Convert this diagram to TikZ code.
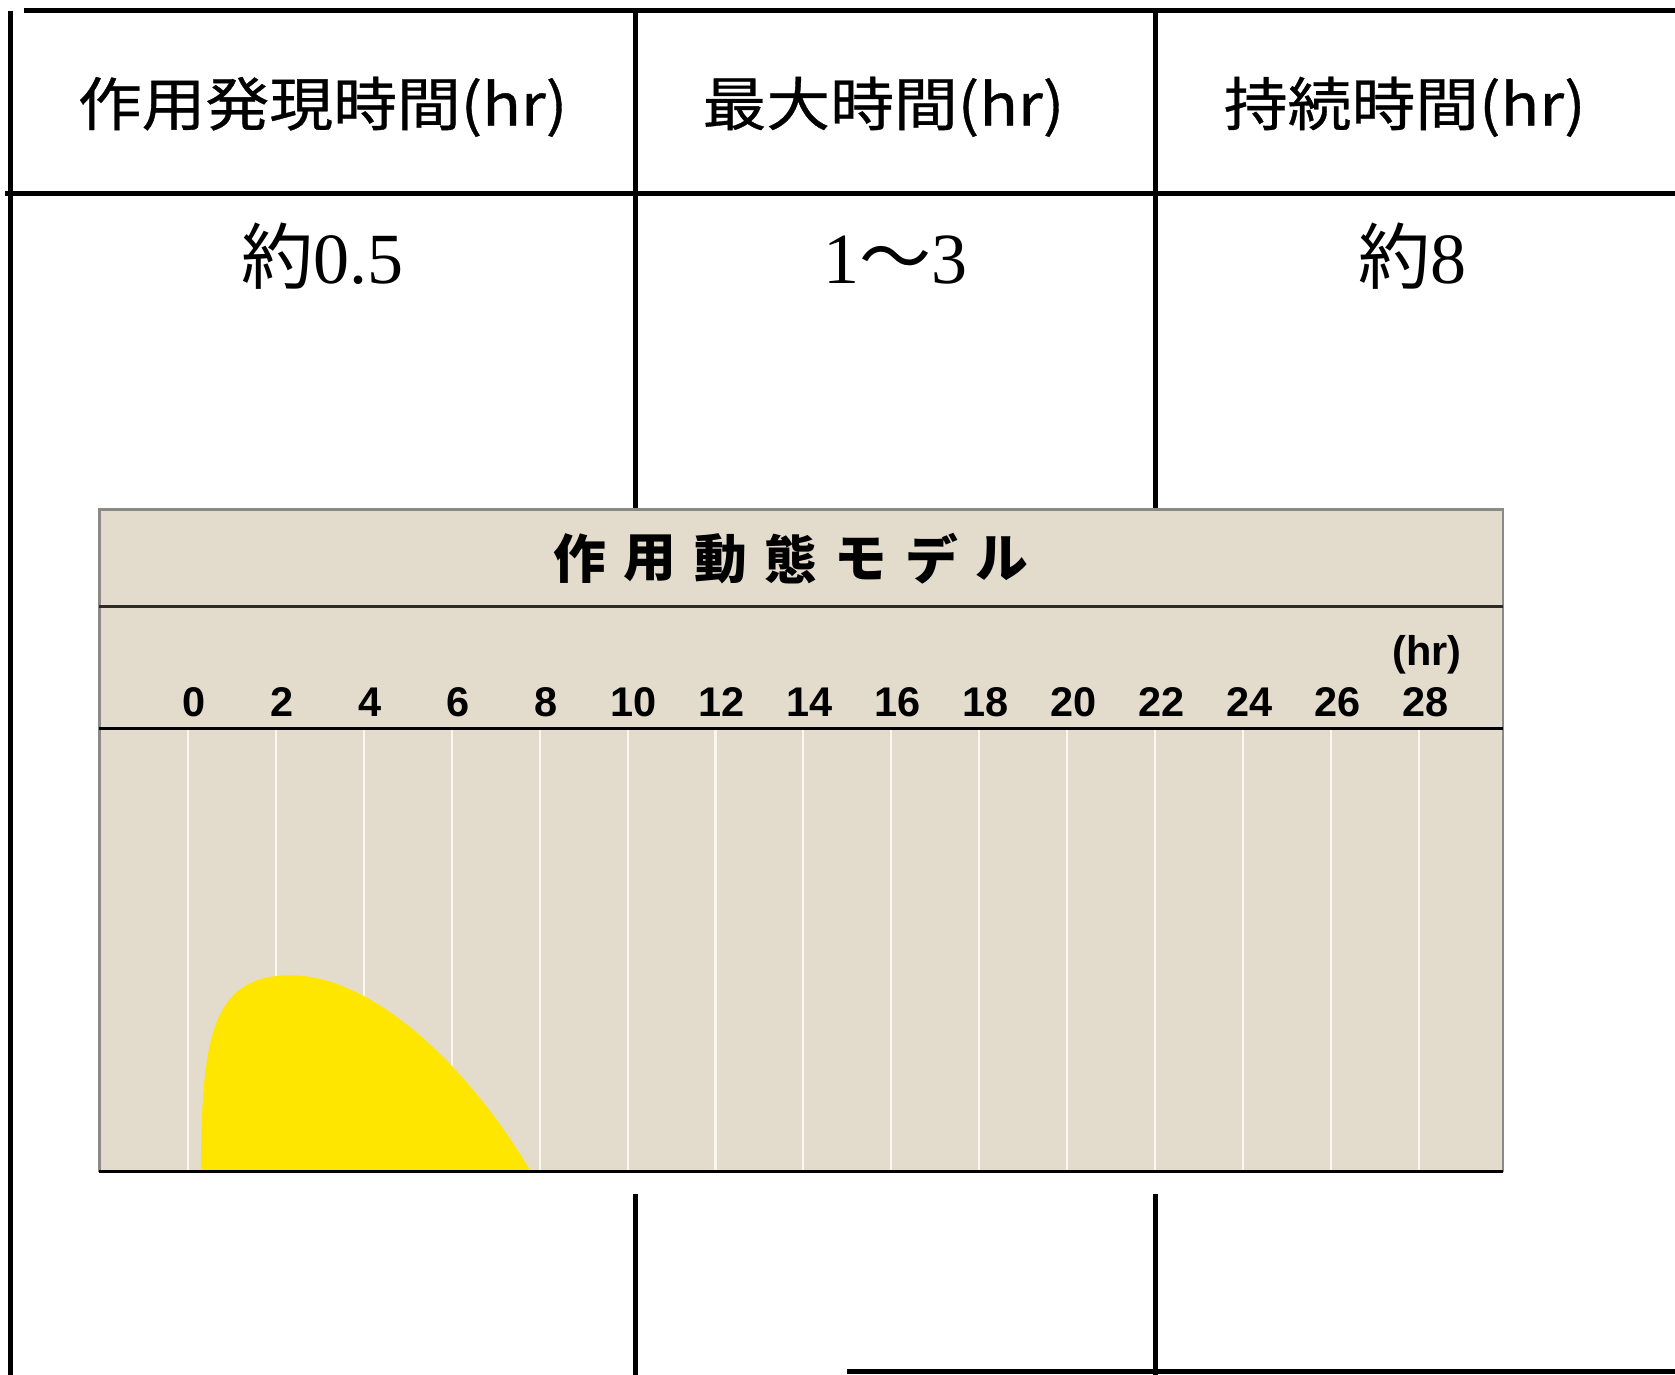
\documentclass[tikz,border=0pt]{standalone}
\usepackage{fontspec}
\newfontfamily\jp{Noto Sans CJK JP}
\newfontfamily\jphead{Noto Sans CJK JP}[FakeStretch=1.1, FakeBold=0.6]
\newfontfamily\valfont{Liberation Serif}
\newfontfamily\tickfont{Liberation Sans}
\definecolor{chartbg}{HTML}{E3DCCC}
\definecolor{gridwhite}{HTML}{FBF7EE}
\definecolor{peak}{HTML}{FFE600}
\definecolor{chartline}{HTML}{2E2A25}

\begin{document}
\begin{tikzpicture}[x=0.1068mm, y=-0.1068mm,
    rule/.style = {line width=1.5pt, black},
    frame/.style = {line width=0.9pt, chartline},
    head/.style = {font=\jphead\fontsize{16.5}{16.5}\selectfont},
    val/.style = {font=\valfont\fontsize{20.5}{20.5}\selectfont, anchor=base},
    titlech/.style = {font=\jp\bfseries\fontsize{15}{15}\selectfont},
    tick/.style = {font=\tickfont\bfseries\fontsize{11.8}{12}\selectfont, anchor=base}]
    \useasboundingbox (0,0) rectangle (1568,1287);
    % Table lines
    \draw[rule] (22,10) -- (1568,10);
    \draw[rule] (5,181) -- (1568,181);
    \draw[rule] (10,10) -- (10,1287);
    \draw[rule] (595,10) -- (595,477);
    \draw[rule] (1082,10) -- (1082,477);
    \draw[rule] (595,1118) -- (595,1287);
    \draw[rule] (1082,1118) -- (1082,1287);
    \draw[rule] (793,1284) -- (1568,1284);
    % Header
    \node[head] (h1) at (302,100) {作用発現時間(hr)};
    \node[head] (h2) at (827,100) {最大時間(hr)};
    \node[head] (h3) at (1315,100) {持続時間(hr)};
    % Values
    \node[val] (v1) at (302,265) {{\jp 約}0.5};
    \node[val] (v2) at (838,265) {1{\jp ～}3};
    \node[val] (v3) at (1322,265) {{\jp 約}8};
    % Chart
    \fill[chartbg] (93,477) rectangle (1407,1097);
    \foreach \h [count=\i from 0] in {0,2,...,28} {
        \draw[gridwhite, line width=0.6pt] (176+82.3*\i,682) -- (176+82.3*\i,1097);
        \node[tick] (t\h) at (182+82.3*\i,671) {\h};
    }
    \node[tick] (unit) at (1336,623) {(hr)};
    \fill[peak] (188,1097) .. controls (189,975) and (196,913) .. (272,913)
        .. controls (350,913) and (440,1000) .. (497,1097) -- cycle;
    \foreach \c [count=\i from 0] in {作,用,動,態,モ,デ,ル}
        \node[titlech] (c\i) at (543+65.8*\i,523) {\c};
    \draw[line width=0.8pt, chartline!55] (93,1097) -- (93,477) -- (1407,477) -- (1407,1097);
    \draw[frame] (93,568) -- (1407,568);
    \draw[frame, black] (93,682) -- (1407,682);
    \draw[frame, black] (93,1097) -- (1407,1097);
\end{tikzpicture}
\end{document}
